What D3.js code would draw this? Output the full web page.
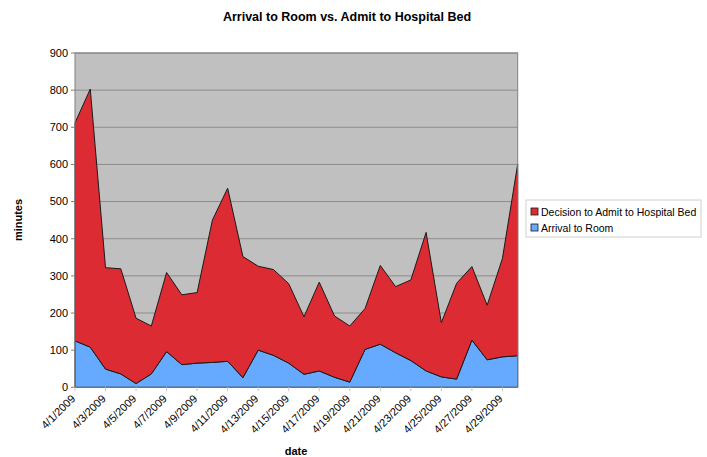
<!DOCTYPE html>
<html>
<head>
<meta charset="utf-8">
<script src="https://cdn.jsdelivr.net/npm/d3@7"></script>
<style>
  body { margin: 0; background: #fff; }
  text { font-family: "Liberation Sans", Arial, sans-serif; }
</style>
</head>
<body>
<div id="chart"></div>
<script>
// data
const dates = ["4/1/2009","4/2/2009","4/3/2009","4/4/2009","4/5/2009","4/6/2009","4/7/2009","4/8/2009",
  "4/9/2009","4/10/2009","4/11/2009","4/12/2009","4/13/2009","4/14/2009","4/15/2009","4/16/2009",
  "4/17/2009","4/18/2009","4/19/2009","4/20/2009","4/21/2009","4/22/2009","4/23/2009","4/24/2009",
  "4/25/2009","4/26/2009","4/27/2009","4/28/2009","4/29/2009","4/30/2009"];
const arrivalToRoom = [125,108,49,36,10,36,96,61,65,67,70,26,100,86,65,35,44,27,14,102,116,93,72,44,28,22,127,74,82,85];
const decisionToAdmit = [587,695,273,283,176,129,213,188,190,383,466,326,226,231,214,155,239,165,151,110,212,178,217,373,146,258,198,147,265,516];
const seriesNames = ["Arrival to Room", "Decision to Admit to Hospital Bed"];
const yTicks = [0,100,200,300,400,500,600,700,800,900];

const width = 707, height = 457;
const plotLeft = 75, plotRight = 517.7, plotTop = 53, plotBottom = 387.3;

const svg = d3.select("#chart").append("svg")
  .attr("width", width).attr("height", height);

const x = d3.scalePoint().domain(dates).range([plotLeft, plotRight]);
const y = d3.scaleLinear().domain([0, 900]).range([plotBottom, plotTop]);

// plot background
svg.append("rect")
  .attr("x", plotLeft).attr("y", plotTop)
  .attr("width", plotRight - plotLeft).attr("height", plotBottom - plotTop)
  .style("fill", "#c0c0c0");

// gridlines
svg.append("g").selectAll("line")
  .data(yTicks.slice(1)).enter()
  .append("line")
    .attr("x1", plotLeft).attr("x2", plotRight)
    .attr("y1", d => y(d)).attr("y2", d => y(d))
    .style("stroke", "#8c8c8c").style("stroke-width", 1);

// stacked areas
const rows = dates.map((d, i) => ({ date: d, a: arrivalToRoom[i], b: decisionToAdmit[i] }));
const stacked = d3.stack().keys(["a", "b"])(rows);
const colors = ["#66aaff", "#dc2b33"];

const area = d3.area()
  .x(d => x(d.data.date))
  .y0(d => y(d[0]))
  .y1(d => y(d[1]));

svg.append("g").selectAll("path")
  .data(stacked).enter()
  .append("path")
    .attr("d", area)
    .style("fill", (d, i) => colors[i])
    .style("stroke", "#1a1a1a")
    .style("stroke-width", 1)
    .style("stroke-linejoin", "round");

// plot border
svg.append("rect")
  .attr("x", plotLeft).attr("y", plotTop)
  .attr("width", plotRight - plotLeft).attr("height", plotBottom - plotTop)
  .style("fill", "none").style("stroke", "#808080");

// y axis
const yAxis = svg.append("g");
yAxis.selectAll("line")
  .data(yTicks).enter()
  .append("line")
    .attr("x1", plotLeft - 4).attr("x2", plotLeft)
    .attr("y1", d => y(d)).attr("y2", d => y(d))
    .style("stroke", "#808080");
yAxis.selectAll("text")
  .data(yTicks).enter()
  .append("text")
    .attr("x", plotLeft - 7).attr("y", d => y(d)).attr("dy", "0.35em")
    .attr("text-anchor", "end")
    .style("font-size", "11px")
    .text(d => d);

// x axis
const labelDates = dates.filter((d, i) => i % 2 === 0);
const xAxis = svg.append("g");
xAxis.selectAll("line")
  .data(labelDates).enter()
  .append("line")
    .attr("x1", d => x(d)).attr("x2", d => x(d))
    .attr("y1", plotBottom).attr("y2", plotBottom + 4)
    .style("stroke", "#c8c8c8");
xAxis.selectAll("text")
  .data(labelDates).enter()
  .append("text")
    .attr("transform", d => `translate(${x(d) + 1},${plotBottom + 12}) rotate(-45)`)
    .attr("text-anchor", "end")
    .style("font-size", "11px")
    .text(d => d);

// titles
svg.append("text")
  .attr("x", 347).attr("y", 21)
  .attr("text-anchor", "middle")
  .style("font-size", "12.5px").style("font-weight", "bold")
  .text("Arrival to Room vs. Admit to Hospital Bed");

svg.append("text")
  .attr("x", 296).attr("y", 455)
  .attr("text-anchor", "middle")
  .style("font-size", "11px").style("font-weight", "bold")
  .text("date");

svg.append("text")
  .attr("transform", "translate(22,220) rotate(-90)")
  .attr("text-anchor", "middle")
  .style("font-size", "11px").style("font-weight", "bold")
  .text("minutes");

// legend
const legend = svg.append("g").attr("transform", "translate(526,200)");
legend.append("rect")
  .attr("width", 175).attr("height", 37)
  .style("fill", "#fff").style("stroke", "#d0d0d0");
const legendItems = [
  { name: seriesNames[1], color: colors[1] },
  { name: seriesNames[0], color: colors[0] }
];
const li = legend.selectAll(".item")
  .data(legendItems).enter()
  .append("g")
    .attr("class", "item")
    .attr("transform", (d, i) => `translate(5,${12 + i * 16})`);
li.append("rect")
  .attr("x", 0).attr("y", -4).attr("width", 7).attr("height", 7)
  .style("fill", d => d.color).style("stroke", "#1a1a1a").style("stroke-width", 0.8);
li.append("text")
  .attr("x", 10).attr("y", 0).attr("dy", "0.35em")
  .style("font-size", "10.5px")
  .text(d => d.name);
</script>
</body>
</html>
